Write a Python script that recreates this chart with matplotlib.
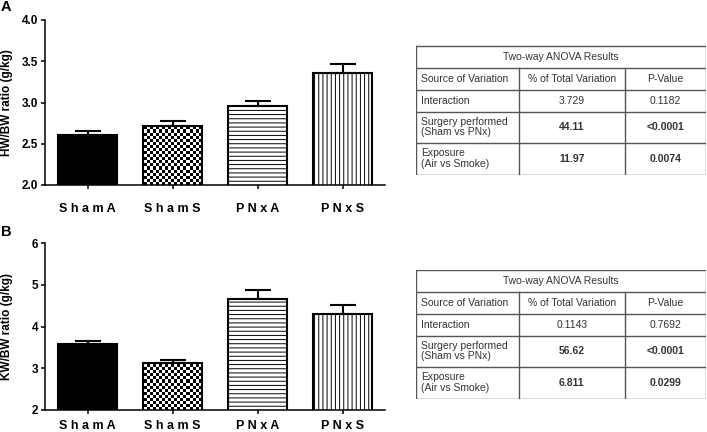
import matplotlib
matplotlib.use("Agg")
import matplotlib.pyplot as plt
import numpy as np

# bar chart data
groups = ["S h a m A", "S h a m S", "P N x A", "P N x S"]
hw_mean = [2.61, 2.72, 2.96, 3.36]
hw_sem = [0.05, 0.06, 0.06, 0.11]
kw_mean = [3.58, 3.12, 4.66, 4.30]
kw_sem = [0.08, 0.08, 0.22, 0.22]

# ANOVA tables
table_title = "Two-way ANOVA Results"
table_cols = ["Source of Variation", "% of Total Variation", "P-Value"]
sources = ["Interaction", "Surgery performed\n(Sham vs PNx)", "Exposure\n(Air vs Smoke)"]
bold_rows = [False, True, True]
hw_pct = ["3.729", "44.11", "11.97"]
hw_p = ["0.1182", "<0.0001", "0.0074"]
kw_pct = ["0.1143", "56.62", "6.811"]
kw_p = ["0.7692", "<0.0001", "0.0299"]

plt.rcParams["font.family"] = ["Liberation Sans", "DejaVu Sans"]
plt.rcParams["hatch.linewidth"] = 0.7

W, H = 707, 432
fig = plt.figure(figsize=(W / 100, H / 100), dpi=100)


def px_axes(left, top, right, bottom):
    return fig.add_axes([left / W, 1 - bottom / H, (right - left) / W, (bottom - top) / H])


def bar_panel(ax, means, sems, ylim, yticks, fmt, ylabel, xpad):
    x = np.arange(len(groups))
    fills = ["black", "none", "white", "white"]
    hatches = [None, None, "----", "||||"]
    bars = ax.bar(x, means, width=0.69, color=fills, edgecolor="black",
                  linewidth=1.5, zorder=2)
    for b, h in zip(bars, hatches):
        if h:
            b.set_hatch(h)
    ax.errorbar(x, means, yerr=[np.zeros(len(x)), sems], fmt="none",
                ecolor="black", elinewidth=1.5, capsize=9.5, capthick=1.5, zorder=3)
    ax.set_xlim(-0.5, 3.5)
    ax.set_ylim(*ylim)
    # checkerboard fill for the Sham S bar
    bb = ax.get_window_extent()
    rows, cols = int(bb.height / 3), int(bb.width / 3)
    checker = np.add.outer(np.arange(rows), np.arange(cols)) % 2
    im = ax.imshow(checker, extent=(-0.5, 3.5, ylim[0], ylim[1]), aspect="auto",
                   cmap="gray", interpolation="nearest", zorder=1)
    im.set_clip_path(bars[1])
    ax.set_xlim(-0.5, 3.5)
    ax.set_ylim(*ylim)
    ax.set_yticks(yticks)
    ax.set_yticklabels([fmt % v for v in yticks], fontweight="bold", fontsize=8.5)
    ax.set_xticks(x)
    ax.set_xticklabels(groups, fontweight="bold", fontsize=9)
    ax.tick_params(axis="x", length=3, width=1.1, pad=xpad)
    ax.tick_params(axis="y", length=3, width=1.1, pad=2)
    for s in ["top", "right"]:
        ax.spines[s].set_visible(False)
    for s in ["left", "bottom"]:
        ax.spines[s].set_linewidth(1.1)
    ax.set_ylabel(ylabel, fontweight="bold", fontsize=8.5)
    ax.yaxis.set_label_coords(-0.093, 0.5)


def anova_table(ax, pct, pval):
    rows_y = [0, 22, 44, 66, 97, 129]
    cols_x = [0, 102.5, 209, 289.5]
    ax.set_xlim(0, 290)
    ax.set_ylim(129.5, -0.5)
    ax.axis("off")
    lc = "#555555"
    for y in rows_y:
        ax.plot([0, 289.5], [y, y], color=lc, lw=1)
    ax.plot([0, 0], [0, 129], color=lc, lw=1)
    ax.plot([289.5, 289.5], [0, 129], color=lc, lw=1)
    for xc in cols_x[1:3]:
        ax.plot([xc, xc], [22, 129], color=lc, lw=1)
    tc = "#333333"
    fs = 7.5
    ax.text(145, 11, table_title, ha="center", va="center", fontsize=fs, color=tc)
    ax.text(5, 33, table_cols[0], ha="left", va="center", fontsize=fs, color=tc)
    ax.text((cols_x[1] + cols_x[2]) / 2, 33, table_cols[1], ha="center", va="center",
            fontsize=fs, color=tc)
    ax.text((cols_x[2] + cols_x[3]) / 2, 33, table_cols[2], ha="center", va="center",
            fontsize=fs, color=tc)
    for i in range(3):
        yc = (rows_y[i + 2] + rows_y[i + 3]) / 2
        w = "bold" if bold_rows[i] else "normal"
        ax.text(5, yc, sources[i], ha="left", va="center", fontsize=fs, color=tc,
                linespacing=1.05)
        ax.text((cols_x[1] + cols_x[2]) / 2, yc, pct[i], ha="center", va="center",
                fontsize=fs, color=tc, fontweight=w)
        ax.text((cols_x[2] + cols_x[3]) / 2, yc, pval[i], ha="center", va="center",
                fontsize=fs, color=tc, fontweight=w)


def main():
    ax_a = px_axes(45, 20, 385, 185)
    bar_panel(ax_a, hw_mean, hw_sem, (2.0, 4.0), [2.0, 2.5, 3.0, 3.5, 4.0], "%.1f",
              "HW/BW ratio (g/kg)", 10)
    ax_b = px_axes(45, 243.3, 385, 410)
    bar_panel(ax_b, kw_mean, kw_sem, (2, 6), [2, 3, 4, 5, 6], "%d",
              "KW/BW ratio (g/kg)", 4)

    fig.text(1 / W, 1 - 7 / H, "A", fontsize=10.5, fontweight="bold", va="center")
    fig.text(1 / W, 1 - 232 / H, "B", fontsize=10.5, fontweight="bold", va="center")

    anova_table(px_axes(416, 45.5, 706, 175), hw_pct, hw_p)
    anova_table(px_axes(416, 269.5, 706, 399), kw_pct, kw_p)

    fig.savefig("out.png", dpi=100)


if __name__ == "__main__":
    main()
